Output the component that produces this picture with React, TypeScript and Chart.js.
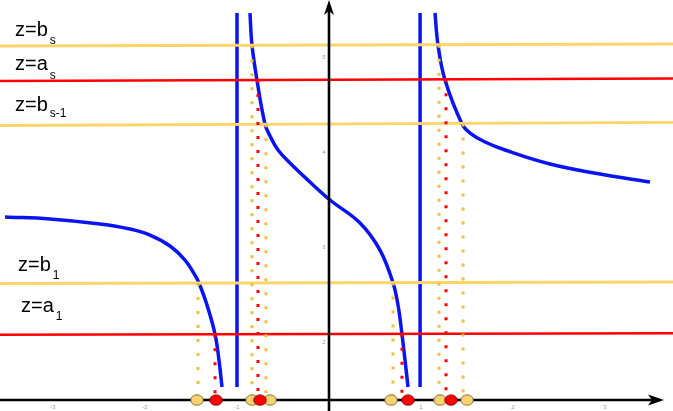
import React, { useEffect, useRef } from 'react';
import { Chart, registerables } from 'chart.js';

Chart.register(...registerables);

// ---- axis ranges (data units) ----
const X_MIN = -3.576;
const X_MAX = 3.739;
const Y_MIN = 1.274;
const Y_MAX = 5.6;
const AXIS_Y = 1.389; // where the horizontal axis crosses
const AXIS_X = 0; // where the vertical axis crosses

// ---- function branches ----
const leftBranchX = [-3.522, -3.033, -2.489, -2.163, -1.946, -1.728, -1.565, -1.457, -1.413, -1.326, -1.239, -1.196, -1.163];
const leftBranchY = [3.316, 3.295, 3.242, 3.189, 3.126, 3.011, 2.863, 2.705, 2.621, 2.389, 2.084, 1.811, 1.526];

const middleBranchX = [-0.859, -0.837, -0.783, -0.696, -0.641, -0.554, -0.424, -0.207, 0.011, 0.337, 0.554, 0.696, 0.75, 0.793, 0.826, 0.859];
const middleBranchY = [5.463, 5.126, 4.758, 4.295, 4.168, 4.021, 3.884, 3.684, 3.495, 3.253, 2.968, 2.621, 2.389, 2.084, 1.811, 1.526];

const rightBranchX = [1.152, 1.185, 1.261, 1.446, 1.533, 1.696, 1.913, 2.402, 2.946, 3.489];
const rightBranchY = [5.463, 5.126, 4.758, 4.295, 4.2, 4.105, 4.021, 3.874, 3.768, 3.684];

// vertical asymptotes
const poleX = [-1.0, 0.99];
const poleTop = 5.463;
const poleBottom = 1.526;

// ---- horizontal levels ----
const levelMain = ['z=b', 'z=a', 'z=b', 'z=b', 'z=a'];
const levelSub = ['s', 's', 's-1', '1', '1'];
const levelKind = ['b', 'a', 'b', 'b', 'a'];
const levelLeft = [5.116, 4.747, 4.279, 2.616, 2.077];
const levelRight = [5.137, 4.774, 4.311, 2.632, 2.092];

// x positions where each level meets the curve (dotted drop lines)
const levelRoots = [
  [-0.837, 1.196], // b_s
  [-0.772, 1.272], // a_s
  [-0.685, 1.457], // b_{s-1}
  [-1.424, 0.696], // b_1
  [-1.239, 0.793], // a_1
];
const dropBottom = 1.432;

// dots on the axis
const yellowDotX = [-1.435, -0.837, -0.641, 0.674, 1.207, 1.5];
const redDotX = [-1.228, -0.75, 0.859, 1.326];

// tick labels
const xTickValues = [-3, -2, -1, 1, 2, 3];
const yTickValues = [2, 3, 4, 5];

const BLUE = '#0a14f0';
const YELLOW_LINE = '#fbd46c';
const YELLOW_DOT_LINE = '#f0c03c';
const RED = '#ff0000';

function pts(xs: number[], ys: number[]) {
  return xs.map((x, i) => ({ x, y: ys[i] }));
}

function ellipseDot(fill: string, stroke: string) {
  const c = document.createElement('canvas');
  c.width = 14;
  c.height = 12;
  const g = c.getContext('2d')!;
  g.beginPath();
  g.ellipse(7, 6, 6.3, 5.2, 0, 0, Math.PI * 2);
  g.fillStyle = fill;
  g.fill();
  g.lineWidth = 0.8;
  g.strokeStyle = stroke;
  g.stroke();
  return c;
}

const labelPos = [
  [15, 36, 44],
  [15, 70, 79],
  [15, 111, 117],
  [18, 271, 279],
  [21, 312, 320],
];

const overlayPlugin = {
  id: 'overlay',
  afterDatasetsDraw(chart: any) {
    const ctx = chart.ctx as CanvasRenderingContext2D;
    const xs = chart.scales.x;
    const ys = chart.scales.y;
    const ax = xs.getPixelForValue(AXIS_X);
    const ay = ys.getPixelForValue(AXIS_Y);
    ctx.save();
    // arrow heads
    ctx.fillStyle = '#000';
    ctx.beginPath();
    ctx.moveTo(ax, 0);
    ctx.lineTo(ax + 5, 15);
    ctx.lineTo(ax, 11);
    ctx.lineTo(ax - 5, 15);
    ctx.closePath();
    ctx.fill();
    const tip = 664;
    ctx.beginPath();
    ctx.moveTo(tip, ay);
    ctx.lineTo(tip - 16, ay - 5.5);
    ctx.lineTo(tip - 12, ay);
    ctx.lineTo(tip - 16, ay + 5.5);
    ctx.closePath();
    ctx.fill();

    // tick labels
    ctx.fillStyle = '#9a9a9a';
    ctx.font = '6px "Liberation Sans", Arial, sans-serif';
    ctx.textAlign = 'center';
    ctx.textBaseline = 'middle';
    xTickValues.forEach((v) => {
      ctx.fillText(String(v), xs.getPixelForValue(v), ay + 7);
    });
    yTickValues.forEach((v) => {
      ctx.fillText(String(v), ax - 5, ys.getPixelForValue(v));
    });

    // level labels
    ctx.fillStyle = '#000';
    ctx.textAlign = 'left';
    ctx.textBaseline = 'alphabetic';
    levelMain.forEach((m, i) => {
      const [lx, ly, sy] = labelPos[i];
      ctx.font = '20px "Liberation Sans", Arial, sans-serif';
      ctx.fillText(m, lx, ly);
      const w = ctx.measureText(m).width;
      ctx.font = '12px "Liberation Sans", Arial, sans-serif';
      ctx.fillText(levelSub[i], lx + w + 2, sy);
    });
    ctx.restore();
  },
};

export default function App() {
  const ref = useRef<HTMLCanvasElement>(null);
  useEffect(() => {
    if (!ref.current) return;
    const yellowDot = ellipseDot('#f8d372', '#6b5420');
    const redDot = ellipseDot('#ff0000', '#6a0000');

    const datasets: any[] = [];
    const curve = { borderColor: BLUE, borderWidth: 3.5, pointRadius: 0, showLine: true, order: 10, tension: 0.4 };
    datasets.push({ ...curve, data: pts(leftBranchX, leftBranchY) });
    datasets.push({ ...curve, data: pts(middleBranchX, middleBranchY) });
    datasets.push({ ...curve, data: pts(rightBranchX, rightBranchY) });
    poleX.forEach((px) => {
      datasets.push({ ...curve, data: [{ x: px, y: poleTop }, { x: px, y: poleBottom }] });
    });

    levelLeft.forEach((l, i) => {
      datasets.push({
        data: [{ x: X_MIN, y: l }, { x: X_MAX, y: levelRight[i] }],
        borderColor: levelKind[i] === 'b' ? YELLOW_LINE : RED,
        borderWidth: levelKind[i] === 'b' ? 2.8 : 2.4,
        pointRadius: 0,
        showLine: true,
        order: 8,
      });
    });

    levelRoots.forEach((roots, i) => {
      roots.forEach((rx) => {
        const t = (rx - X_MIN) / (X_MAX - X_MIN);
        const ly = levelLeft[i] + (levelRight[i] - levelLeft[i]) * t;
        datasets.push({
          data: [{ x: rx, y: ly }, { x: rx, y: dropBottom }],
          borderColor: levelKind[i] === 'b' ? YELLOW_DOT_LINE : RED,
          borderWidth: 3,
          borderDash: [3, 11],
          borderCapStyle: 'butt',
          pointRadius: 0,
          showLine: true,
          order: 6,
        });
      });
    });

    // axes
    datasets.push({
      data: [{ x: X_MIN, y: AXIS_Y }, { x: 3.56, y: AXIS_Y }],
      borderColor: '#000', borderWidth: 2.6, pointRadius: 0, showLine: true, order: 4,
    });
    datasets.push({
      data: [{ x: AXIS_X, y: Y_MIN }, { x: AXIS_X, y: 5.5 }],
      borderColor: '#000', borderWidth: 2.6, pointRadius: 0, showLine: true, order: 4,
    });

    datasets.push({
      data: yellowDotX.map((x) => ({ x, y: AXIS_Y })),
      pointStyle: yellowDot, pointRadius: 6, showLine: false, order: 2,
    });
    datasets.push({
      data: redDotX.map((x) => ({ x, y: AXIS_Y })),
      pointStyle: redDot, pointRadius: 6, showLine: false, order: 1,
    });

    const chart = new Chart(ref.current, {
      type: 'scatter',
      data: { datasets },
      options: {
        responsive: false,
        animation: false,
        events: [],
        layout: { padding: 0, autoPadding: false },
        plugins: { legend: { display: false }, tooltip: { enabled: false } },
        scales: {
          x: { type: 'linear', min: X_MIN, max: X_MAX, display: false },
          y: { type: 'linear', min: Y_MIN, max: Y_MAX, display: false },
        },
      },
      plugins: [overlayPlugin],
    } as any);
    return () => chart.destroy();
  }, []);

  return (
    <div style={{ position: 'absolute', left: 0, top: 0, width: 673, height: 411, background: '#fff' }}>
      <canvas ref={ref} width={673} height={411} style={{ display: 'block' }} />
    </div>
  );
}
